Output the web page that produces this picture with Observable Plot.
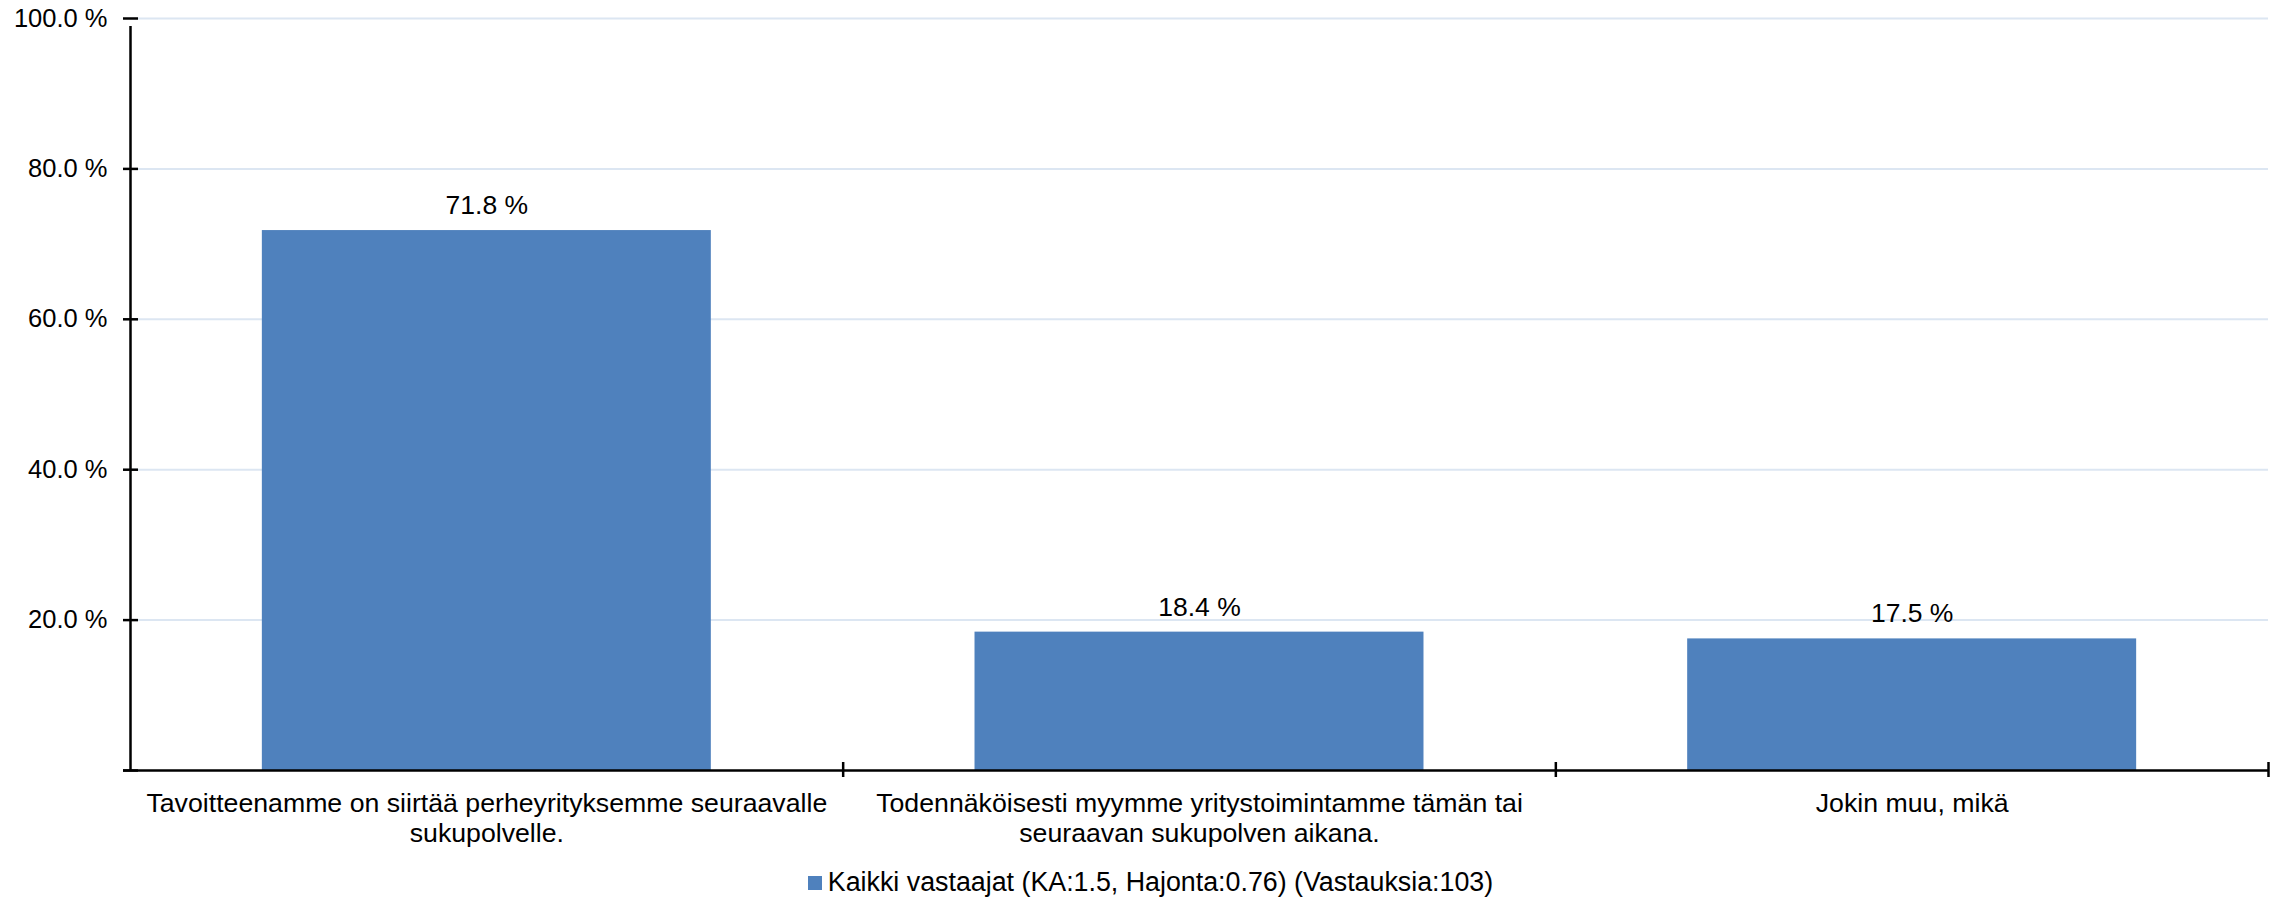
<!DOCTYPE html>
<html>
<head>
<meta charset="utf-8">
<script src="https://cdn.jsdelivr.net/npm/d3@7"></script>
<script src="https://cdn.jsdelivr.net/npm/@observablehq/plot@0.6"></script>
<style>
  html, body { margin: 0; padding: 0; background: #fff; }
  body { width: 2277px; height: 905px; overflow: hidden; font-family: "Liberation Sans", Arial, sans-serif; }
  #legend { height: 45px; display: flex; align-items: center; justify-content: center; padding-left: 24px; box-sizing: border-box; font-size: 26.8px; color: #000; }
  #legend .sw { display: inline-block; width: 14px; height: 14px; background: #4f81bd; margin-right: 6px; }
</style>
</head>
<body>
<div id="chart"></div>
<div id="legend"><span class="sw"></span><span id="legendText"></span></div>
<script>
const categories = [
  "Tavoitteenamme on siirtää perheyrityksemme seuraavalle\nsukupolvelle.",
  "Todennäköisesti myymme yritystoimintamme tämän tai\nseuraavan sukupolven aikana.",
  "Jokin muu, mikä"
];
const values = [71.8, 18.4, 17.5];
const yTicks = [0, 20, 40, 60, 80, 100];
const seriesName = "Kaikki vastaajat (KA:1.5, Hajonta:0.76) (Vastauksia:103)";

const data = categories.map((c, i) => ({idx: i, cat: c, value: values[i]}));
const boundaries = d3.range(categories.length + 1);
const barColor = "#4f81bd";
const pad = 0.185;
const fmt = d => d.toFixed(1) + " %";

const chart = Plot.plot({
  width: 2277,
  height: 860,
  marginLeft: 130,
  marginRight: 9,
  marginTop: 18,
  marginBottom: 90,
  style: {fontFamily: "'Liberation Sans', Arial, sans-serif", fontSize: "25px", color: "#000", background: "#fff"},
  x: {domain: [0, categories.length], axis: null},
  y: {domain: [0, 100], axis: null},
  marks: [
    Plot.ruleY(yTicks.filter(d => d > 0), {y: d => d, stroke: "#dce6f2", strokeWidth: 2}),
    Plot.rectY(data, {x1: d => d.idx + pad, x2: d => d.idx + 1 - pad, y1: 0, y2: "value", fill: barColor}),
    Plot.axisY({ticks: yTicks.filter(d => d > 0), tickFormat: fmt, tickSize: 0, tickPadding: 23, fontSize: 25.5, anchor: "left", label: null}),
    Plot.ruleY(yTicks, {y: d => d, x1: 0, x2: 0, insetLeft: -7, insetRight: -8, stroke: "#000", strokeWidth: 2.5}),
    Plot.ruleX([0], {x: d => d, y1: 0, y2: 100, insetBottom: -8, stroke: "#000", strokeWidth: 2.5}),
    Plot.ruleY([0], {y: d => d, x1: 0, x2: categories.length, insetLeft: -7, stroke: "#000", strokeWidth: 2.5}),
    Plot.ruleX(boundaries.slice(1), {x: d => d, y1: 0, y2: 0, insetTop: -8, insetBottom: -7, stroke: "#000", strokeWidth: 2.5}),
    Plot.text(data, {x: d => d.idx + 0.5, y: "value", text: d => fmt(d.value), dy: -25, fontSize: 26.5, fill: "#000"}),
    Plot.text(data, {x: d => d.idx + 0.5, y: 0, text: "cat", lineAnchor: "top", dy: 21, lineHeight: 1.1, fontSize: 26.7, fill: "#000"})
  ]
});
document.getElementById("chart").appendChild(chart);
document.getElementById("legendText").textContent = seriesName;
</script>
</body>
</html>
